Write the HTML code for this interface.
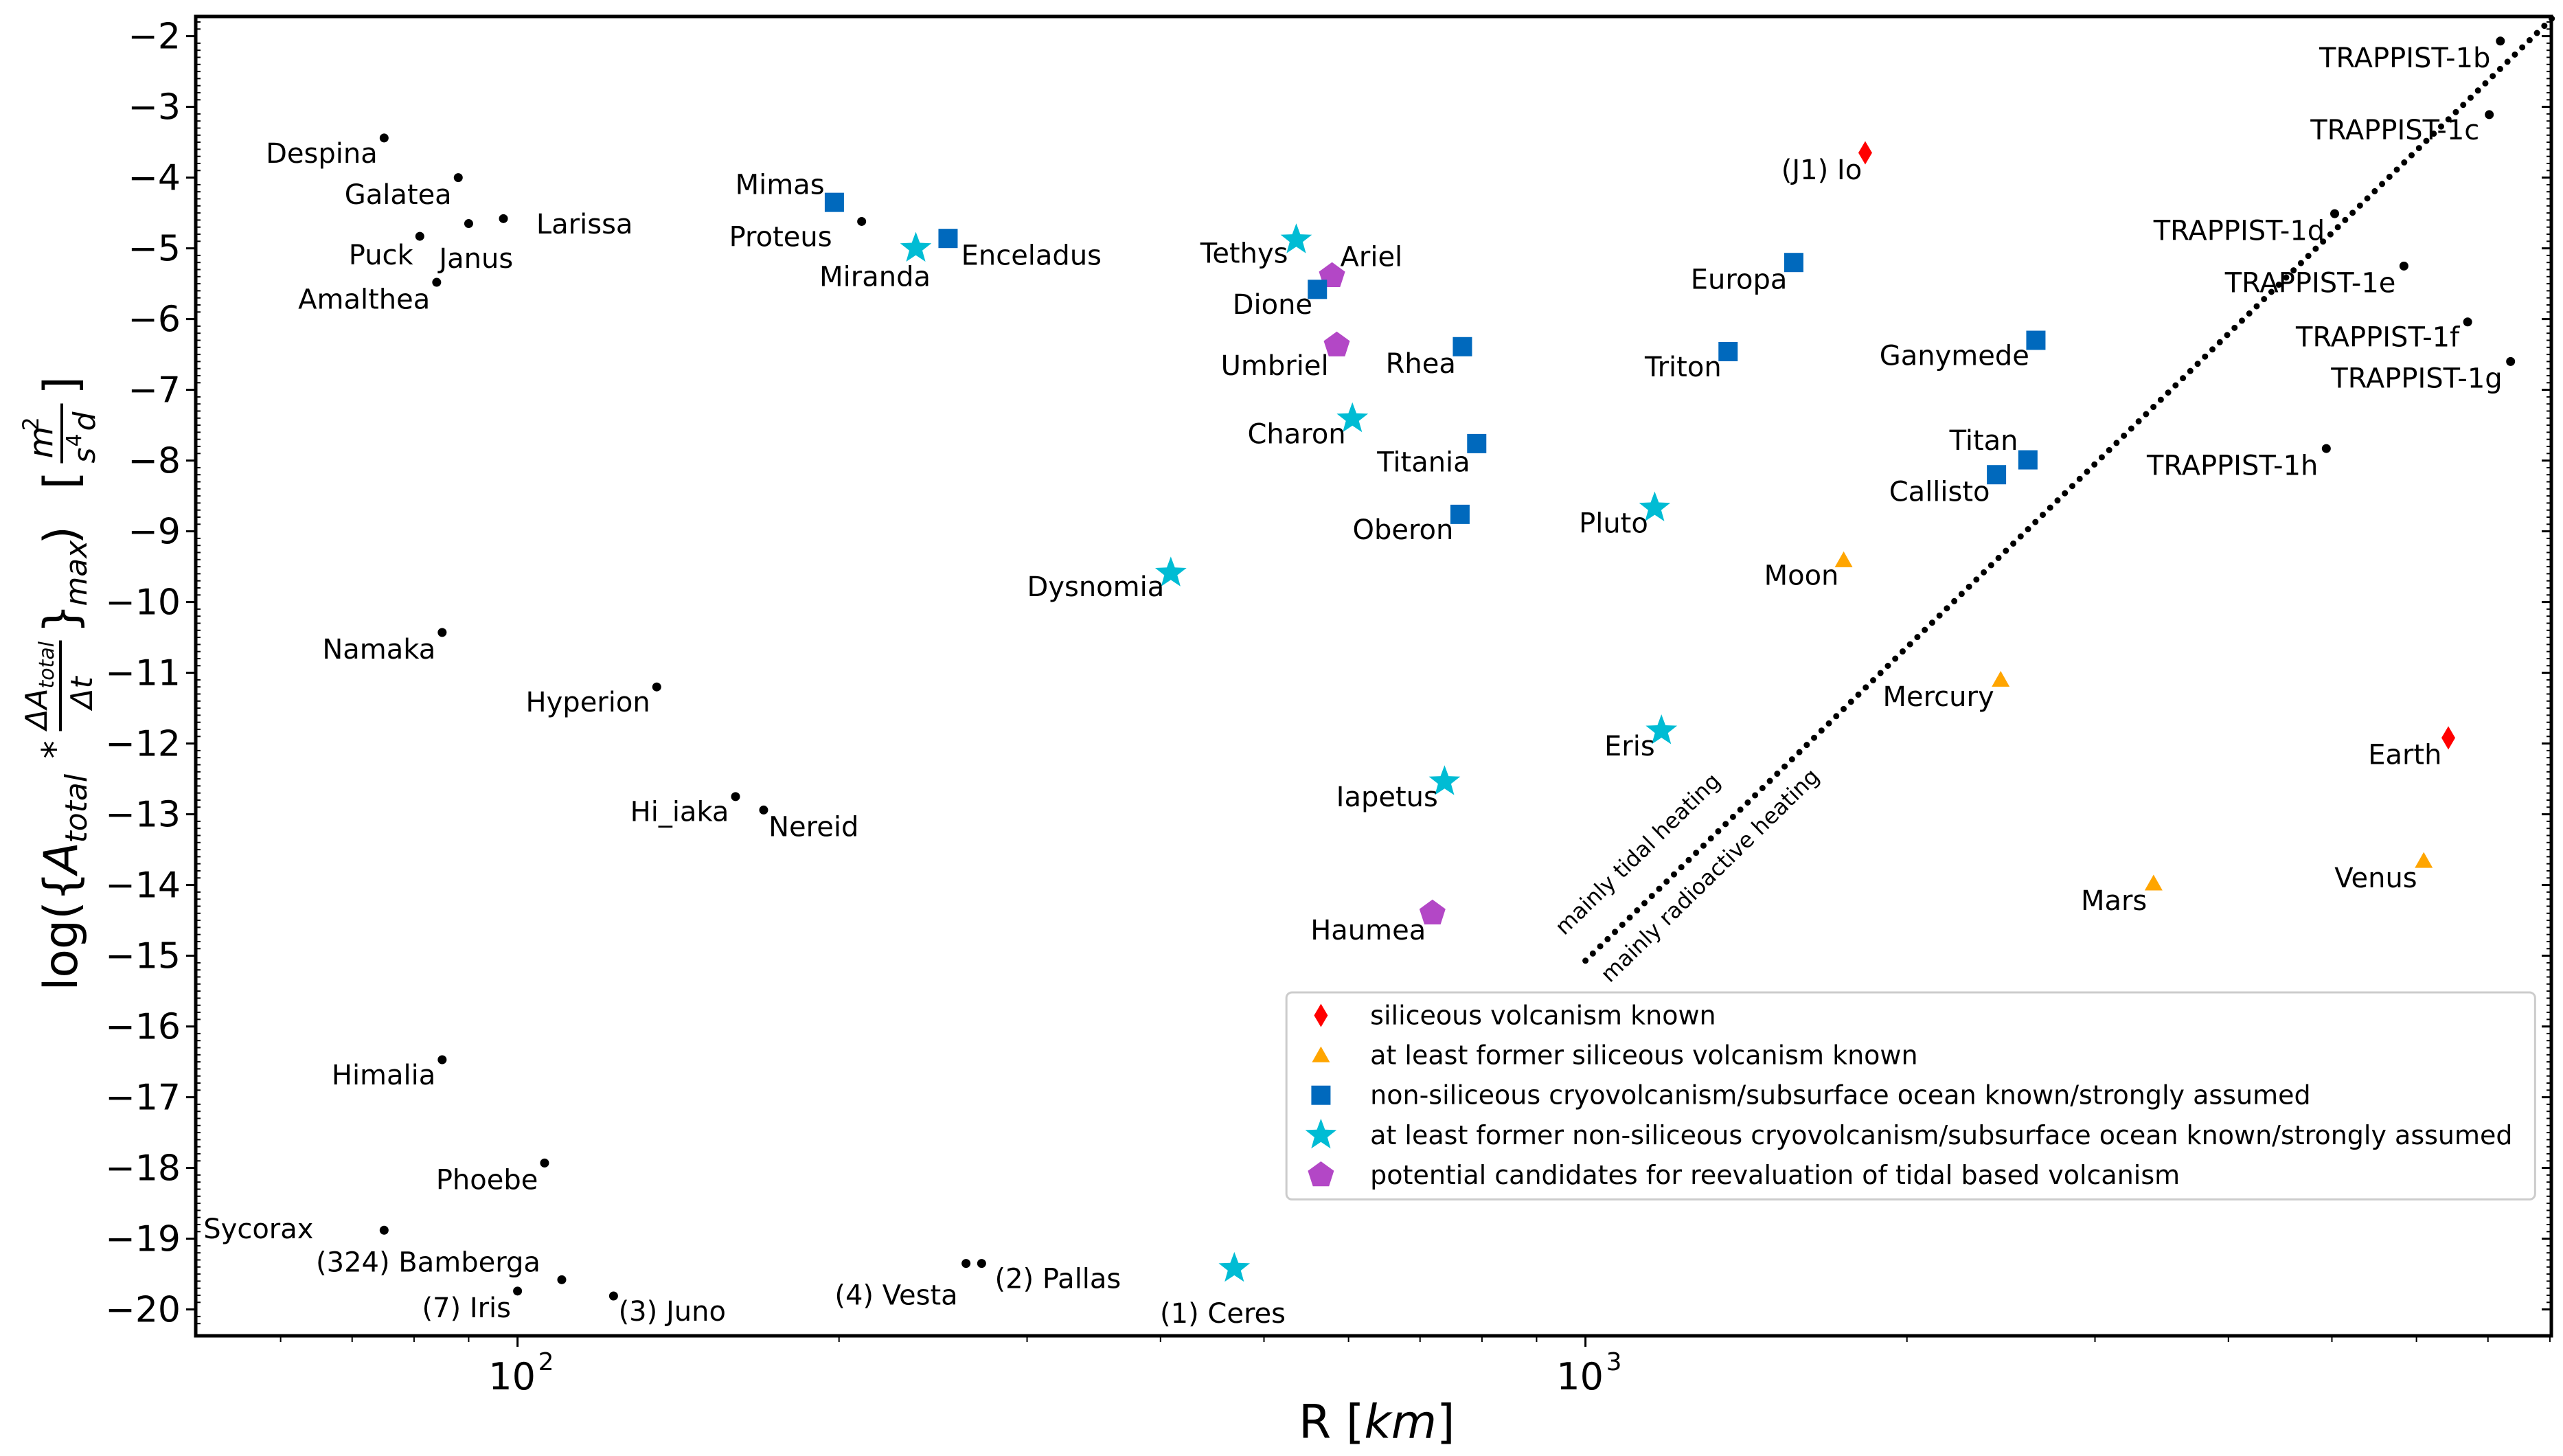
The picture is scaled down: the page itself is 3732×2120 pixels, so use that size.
<!DOCTYPE html>
<html><head><meta charset="utf-8"><style>
html,body{margin:0;padding:0;background:#fff}
svg{display:block}
text{font-family:"DejaVu Sans","Liberation Sans",sans-serif}
</style></head><body>
<svg id="chart" width="3732" height="2120" viewBox="0 0 3732 2120" xmlns="http://www.w3.org/2000/svg"></svg>
<script>
const names=["Despina","Galatea","Janus","Larissa","Puck","Amalthea","Proteus","Mimas","Enceladus","Miranda","Tethys","Ariel","Dione","Umbriel","Rhea","Charon","Titania","Oberon","Dysnomia","(J1) Io","Europa","Triton","Ganymede","Titan","Callisto","Pluto","Moon","Mercury","Eris","Iapetus","Haumea","Mars","Venus","Earth","TRAPPIST-1b","TRAPPIST-1c","TRAPPIST-1d","TRAPPIST-1e","TRAPPIST-1f","TRAPPIST-1g","TRAPPIST-1h","Namaka","Hyperion","Hi_iaka","Nereid","Himalia","Phoebe","Sycorax","(324) Bamberga","(7) Iris","(3) Juno","(4) Vesta","(2) Pallas","(1) Ceres"];
const radii=[75,88,90,97,81,84,210,198,253,236,536,579,561,585,767,605,791,763,409,1828,1567,1360,2641,2596,2426,1161,1745,2448,1178,738,719,3404,6095,6427,7190,7020,5030,5840,6700,7350,4940,85,135,160,170,85,106,75,110,100,123,263,272,469];
const values=[-3.44,-4.0,-4.65,-4.58,-4.83,-5.48,-4.62,-4.35,-4.86,-5.0,-4.88,-5.39,-5.58,-6.37,-6.39,-7.41,-7.76,-8.76,-9.59,-3.65,-5.2,-6.46,-6.3,-7.99,-8.2,-8.67,-9.41,-11.1,-11.82,-12.54,-14.4,-13.98,-13.66,-11.92,-2.07,-3.11,-4.51,-5.25,-6.04,-6.6,-7.83,-10.43,-11.2,-12.75,-12.94,-16.47,-17.93,-18.88,-19.58,-19.74,-19.81,-19.35,-19.35,-19.42];
const categories=["none","none","none","none","none","none","none","cryo","cryo","former","former","cand","cryo","cand","cryo","former","cryo","cryo","former","sil","cryo","cryo","cryo","cryo","cryo","former","fsil","fsil","former","former","cand","fsil","fsil","sil","none","none","none","none","none","none","none","none","none","none","none","none","none","none","none","none","none","none","none","former"];
const yTicks=[-2,-3,-4,-5,-6,-7,-8,-9,-10,-11,-12,-13,-14,-15,-16,-17,-18,-19,-20];
const xTicks=[2,3];
const legendLabels=["siliceous volcanism known","at least former siliceous volcanism known","non-siliceous cryovolcanism/subsurface ocean known/strongly assumed","at least former non-siliceous cryovolcanism/subsurface ocean known/strongly assumed","potential candidates for reevaluation of tidal based volcanism"];
const legendCats=["sil","fsil","cryo","former","cand"];
const boundaryR=[1000,8035];
const boundaryV=[-15.07,-1.75];
// label offsets (display units, scaled below) [dx,dy,anchor]
const labelOffsets=[[-4,15,"end"],[-4,16,"end"],[-18,27,"start"],[20,9,"start"],[-4,17,"end"],[-4,16,"end"],[-18,15,"end"],[-6,-5,"end"],[8,16,"start"],[9,23,"end"],[-5,14,"end"],[5,-6,"start"],[-3,15,"end"],[-5,18,"end"],[-4,16,"end"],[-4,15,"end"],[-4,17,"end"],[-4,15,"end"],[-4,14,"end"],[-2,16,"end"],[-4,16,"end"],[-4,15,"end"],[-4,15,"end"],[-6,-6,"end"],[-4,16,"end"],[-4,15,"end"],[-3,15,"end"],[-4,16,"end"],[-4,15,"end"],[-4,15,"end"],[-4,16,"end"],[-4,16,"end"],[-4,16,"end"],[-4,16,"end"],[-6,16,"end"],[-6,15,"end"],[-6,16,"end"],[-5,16,"end"],[-5,15,"end"],[-5,16,"end"],[-5,16,"end"],[-4,16,"end"],[-4,15,"end"],[-4,15,"end"],[3,16,"start"],[-4,15,"end"],[-4,16,"end"],[-43,5,"end"],[-13,-5,"end"],[-4,16,"end"],[3,15,"start"],[-5,25,"end"],[8,15,"start"],[-7,33,"middle"]];

const S=3732/1560;
const L=285,R=3715,T=24,B=1945;
const NS="http://www.w3.org/2000/svg";
const svg=document.getElementById('chart');
function xs(r){return 753.6+(Math.log10(r)-2)*1555;}
function ys(v){return 52.6+(-2-v)*103.0;}
function mk(tag,at,parent){const e=document.createElementNS(NS,tag);for(const k in at)e.setAttribute(k,at[k]);(parent||svg).appendChild(e);return e;}
const colors={sil:"#ff0000",fsil:"#ffa500",cryo:"#0069bd",former:"#00bcd4",cand:"#b347c6",none:"#000"};
function starPts(cx,cy,ro,ri){let p=[];for(let i=0;i<10;i++){const a=-Math.PI/2+i*Math.PI/5;const r=i%2?ri:ro;p.push((cx+r*Math.cos(a)).toFixed(1)+","+(cy+r*Math.sin(a)).toFixed(1));}return p.join(" ");}
function marker(cat,cx,cy,g){
  let e;
  if(cat==="none"){e=mk('circle',{cx,cy,r:6.5,fill:"#000"},g);}
  else if(cat==="cryo"){e=mk('rect',{x:cx-14,y:cy-14,width:28,height:28,fill:colors.cryo},g);}
  else if(cat==="former"){e=mk('polygon',{points:starPts(cx,cy,24,10),fill:colors.former},g);}
  else if(cat==="fsil"){e=mk('polygon',{points:`${cx},${cy-13} ${cx+13},${cy+10} ${cx-13},${cy+10}`,fill:colors.fsil},g);}
  else if(cat==="sil"){e=mk('polygon',{points:`${cx},${cy-17} ${cx+10},${cy} ${cx},${cy+17} ${cx-10},${cy}`,fill:colors.sil},g);}
  else {let p=[];for(let i=0;i<5;i++){const a=-Math.PI/2+i*2*Math.PI/5;p.push((cx+20*Math.cos(a)).toFixed(1)+","+(cy+20*Math.sin(a)).toFixed(1));}e=mk('polygon',{points:p.join(" "),fill:colors.cand},g);}
  return e;
}
// frame
const frame=mk('rect',{x:L,y:T,width:R-L,height:B-T,fill:"none",stroke:"#000","stroke-width":5});


// y ticks
const yg=mk('g',{});


yTicks.forEach(v=>{
  const y=ys(v);
  mk('line',{x1:L-14,y1:y,x2:L,y2:y,stroke:"#000","stroke-width":3},yg);
  mk('line',{x1:R,y1:y,x2:R-14,y2:y,stroke:"#000","stroke-width":3},yg);
  const t=mk('text',{x:L-22,y:y+18,"text-anchor":"end","font-size":52},yg);
  t.textContent="\u2212"+Math.abs(v);
  
  
  for(let k=1;k<10;k++){const vv=v+k*0.1;if(vv>-1.72)continue;const yy=ys(vv);
    mk('line',{x1:L,y1:yy,x2:L+7,y2:yy,stroke:"#000","stroke-width":2},yg);
    mk('line',{x1:R,y1:yy,x2:R-7,y2:yy,stroke:"#000","stroke-width":2},yg);}
});
mk('line',{x1:L,y1:ys(-20.1),x2:L+7,y2:ys(-20.1),stroke:"#000","stroke-width":2},yg);
mk('line',{x1:L,y1:ys(-20.2),x2:L+7,y2:ys(-20.2),stroke:"#000","stroke-width":2},yg);
// x ticks
const xg=mk('g',{});


xTicks.forEach(p=>{
  const x=xs(Math.pow(10,p));
  mk('line',{x1:x,y1:B,x2:x,y2:B+16,stroke:"#000","stroke-width":3},xg);
  const t=mk('text',{x:x-8,y:B+78,"text-anchor":"middle","font-size":54},xg);
  t.textContent="10";
  
  
  const s=mk('text',{x:x+30,y:B+50,"font-size":36},xg);s.textContent=String(p);
});
[60,70,80,90,200,300,400,500,600,700,800,900,2000,3000,4000,5000,6000,7000,8000].forEach(r=>{
  const x=xs(r);mk('line',{x1:x,y1:B,x2:x,y2:B+9,stroke:"#000","stroke-width":2},xg);
});
// boundary line
const bl=mk('line',{x1:xs(boundaryR[0]),y1:ys(boundaryV[0]),x2:xs(boundaryR[1]),y2:ys(boundaryV[1]),stroke:"#000","stroke-width":9,"stroke-dasharray":"0 15","stroke-linecap":"round"});


const ang=Math.atan2(ys(boundaryV[1])-ys(boundaryV[0]),xs(boundaryR[1])-xs(boundaryR[0]))*180/Math.PI;
const t1=mk('text',{x:1000*S,y:523*S,"font-size":32,"text-anchor":"middle",transform:`rotate(${ang} ${1000*S} ${523*S})`});
t1.textContent="mainly tidal heating";


const t2=mk('text',{x:1044*S,y:536*S,"font-size":32,"text-anchor":"middle",transform:`rotate(${ang} ${1044*S} ${536*S})`});
t2.textContent="mainly radioactive heating";


// points
names.forEach((n,i)=>{
  const g=mk('g',{});
  
  
  const cx=xs(radii[i]),cy=ys(values[i]);
  marker(categories[i],cx,cy,g);
  const o=labelOffsets[i];
  const t=mk('text',{x:cx+o[0]*S,y:cy+o[1]*S,"text-anchor":o[2],"font-size":40},g);
  t.textContent=n;
});
// legend
const lg=mk('g',{});


mk('rect',{x:783*S,y:604*S,width:760*S,height:126*S,fill:"#fff","fill-opacity":0.85,stroke:"#ccc","stroke-width":3,rx:8},lg);
legendCats.forEach((c,i)=>{
  const y=(618+i*24.3)*S;
  const eg=mk('g',{},lg);
  
  
  marker(c,804*S,y,eg);
  const t=mk('text',{x:834*S,y:y+13,"font-size":38},eg);t.textContent=legendLabels[i];
});
// x label
const xl=mk('text',{x:838*S,y:875*S,"text-anchor":"middle","font-size":68});


xl.innerHTML='R [<tspan font-style="italic">km</tspan>]';
// y label
const yl=mk('g',{transform:`translate(112,${603*S}) rotate(-90)`});


function tx(x,y,s,fs,it){const t=mk('text',{x,y,"font-size":fs,"font-style":it?"italic":"normal"},yl);t.textContent=s;return t;}
tx(0,0,"log({",68);
tx(170,0,"A",68,true);
tx(215,14,"total",44,true);
tx(338,-14,"*",52);
tx(380,-44,"\u0394A",44,true);tx(440,-34,"total",30,true);
mk('line',{x1:378,y1:-24,x2:510,y2:-24,stroke:"#000","stroke-width":4},yl);
tx(410,22,"\u0394t",44,true);
tx(520,0,"}",68);
tx(560,14,"max",44,true);
tx(650,0,")",68);
tx(730,0,"[",68);
tx(775,-36,"m",48,true);tx(815,-56,"2",32);
mk('line',{x1:768,y1:-22,x2:855,y2:-22,stroke:"#000","stroke-width":4},yl);
tx(768,26,"s",44,true);tx(792,6,"4",30);tx(815,26,"d",44,true);
tx(868,0,"]",68);
</script>
</body></html>
